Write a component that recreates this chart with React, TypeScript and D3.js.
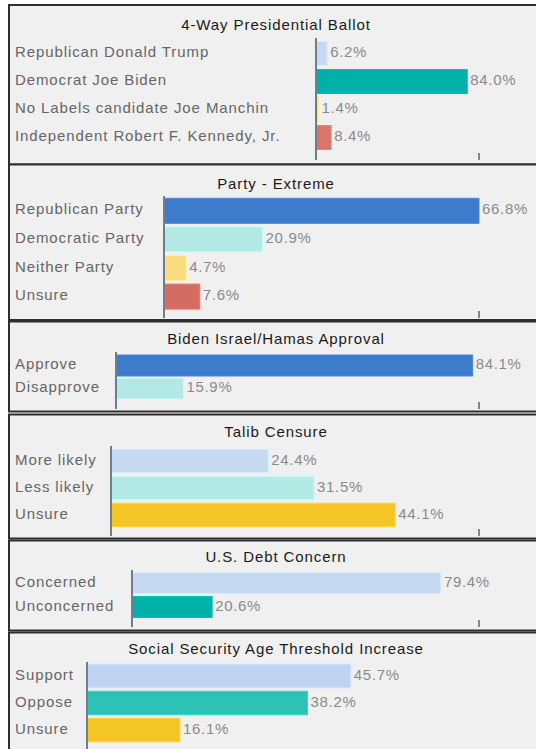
import React from "react";
import * as d3 from "d3";

// ---------- data ----------
const ballotTitle = "4-Way Presidential Ballot";
const ballotCategories = [
  "Republican Donald Trump",
  "Democrat Joe Biden",
  "No Labels candidate Joe Manchin",
  "Independent Robert F. Kennedy, Jr.",
];
const ballotValues = [6.2, 84.0, 1.4, 8.4];

const extremeTitle = "Party - Extreme";
const extremeCategories = ["Republican Party", "Democratic Party", "Neither Party", "Unsure"];
const extremeValues = [66.8, 20.9, 4.7, 7.6];

const israelTitle = "Biden Israel/Hamas Approval";
const israelCategories = ["Approve", "Disapprove"];
const israelValues = [84.1, 15.9];

const talibTitle = "Talib Censure";
const talibCategories = ["More likely", "Less likely", "Unsure"];
const talibValues = [24.4, 31.5, 44.1];

const debtTitle = "U.S. Debt Concern";
const debtCategories = ["Concerned", "Unconcerned"];
const debtValues = [79.4, 20.6];

const ssTitle = "Social Security Age Threshold Increase";
const ssCategories = ["Support", "Oppose", "Unsure"];
const ssValues = [45.7, 38.2, 16.1];

// ---------- styles / layout ----------
const ballotColors = ["#c6d9f1", "#00b1a9", "#f7dc84", "#d8766c"];
const extremeColors = ["#3d7bcb", "#b3e9e5", "#f9dc7f", "#d46c61"];
const israelColors = ["#3d7bcb", "#b3e9e5"];
const talibColors = ["#c6d9f1", "#b3e9e5", "#f5c526"];
const debtColors = ["#c6d9f1", "#00b1a9"];
const ssColors = ["#bdd3ef", "#2dc2b6", "#f5c526"];

const panels = [
  { title: ballotTitle, cats: ballotCategories, vals: ballotValues, colors: ballotColors,
    top: 5, bottom: 164.5, titleY: 30, axisX: 316, max: 90.5, bandY: 39.5, step: 28, barH: 24, axisTop: 38, axisBottom: 160 },
  { title: extremeTitle, cats: extremeCategories, vals: extremeValues, colors: extremeColors,
    top: 164.5, bottom: 320, titleY: 189, axisX: 164, max: 66.8, bandY: 196.5, step: 28.6, barH: 25, axisTop: 196, axisBottom: 318 },
  { title: israelTitle, cats: israelCategories, vals: israelValues, colors: israelColors,
    top: 321.5, bottom: 411.5, titleY: 344, axisX: 116, max: 85.6, bandY: 354, step: 23, barH: 21, axisTop: 352, axisBottom: 409 },
  { title: talibTitle, cats: talibCategories, vals: talibValues, colors: talibColors,
    top: 414.5, bottom: 538.5, titleY: 437, axisX: 111, max: 57.1, bandY: 447.5, step: 27, barH: 23.5, axisTop: 446, axisBottom: 536 },
  { title: debtTitle, cats: debtCategories, vals: debtValues, colors: debtColors,
    top: 540.5, bottom: 630.5, titleY: 562, axisX: 132, max: 89.2, bandY: 571, step: 24, barH: 21, axisTop: 570, axisBottom: 627 },
  { title: ssTitle, cats: ssCategories, vals: ssValues, colors: ssColors,
    top: 632.5, bottom: 780, titleY: 654, axisX: 87, max: 67.9, bandY: 662.5, step: 27, barH: 23.5, axisTop: 662, axisBottom: 760 },
];

const W = 536;
const H = 749;
const PLOT_RIGHT = 479;
const FONT = "'Liberation Sans', Arial, sans-serif";

function Panel({ p }: { p: any }) {
  const x = d3.scaleLinear().domain([0, p.max]).range([p.axisX, PLOT_RIGHT]);
  const n = p.cats.length;
  const pad = 1 - p.barH / p.step;
  const y = d3
    .scaleBand<string>()
    .domain(p.cats)
    .range([p.bandY, p.bandY + n * p.step])
    .paddingInner(pad)
    .paddingOuter(pad / 2);
  return (
    <g>
      <rect x={9} y={p.top} width={560} height={p.bottom - p.top} fill="#f0f0f0" stroke="#2e2e2e" strokeWidth={2} />
      <text x={276} y={p.titleY} textAnchor="middle" fontFamily={FONT} fontSize={15} letterSpacing={0.9} fill="#1a1a1a">
        {p.title}
      </text>
      {p.cats.map((c: string, i: number) => {
        const yy = y(c)!;
        const cy = yy + y.bandwidth() / 2;
        const x1 = x(p.vals[i]);
        return (
          <g key={c}>
            <text x={15} y={cy + 3.5} fontFamily={FONT} fontSize={15} letterSpacing={0.9} fill="#666">
              {c}
            </text>
            <rect
              x={p.axisX}
              y={yy}
              width={Math.max(0, x1 - p.axisX)}
              height={y.bandwidth()}
              fill={p.colors[i]}
              stroke={d3.color(p.colors[i])!.brighter(0.25).toString()}
              strokeWidth={1}
            />
            <text x={x1 + 3} y={cy + 3.5} fontFamily={FONT} fontSize={15} letterSpacing={0.7} fill="#8a8a8a">
              {p.vals[i].toFixed(1) + "%"}
            </text>
          </g>
        );
      })}
      <line x1={p.axisX} x2={p.axisX} y1={p.axisTop} y2={p.axisBottom} stroke="#6f7d8c" strokeWidth={2} />
      <line x1={PLOT_RIGHT} x2={PLOT_RIGHT} y1={p.axisBottom - 7} y2={p.axisBottom} stroke="#7a8898" strokeWidth={2} />
    </g>
  );
}

export default function App() {
  return (
    <svg
      width={W}
      height={H}
      viewBox={`0 0 ${W} ${H}`}
      style={{ position: "absolute", left: 0, top: 0, background: "#ffffff" }}
    >
      {panels.map((p) => (
        <Panel key={p.title} p={p} />
      ))}
    </svg>
  );
}
